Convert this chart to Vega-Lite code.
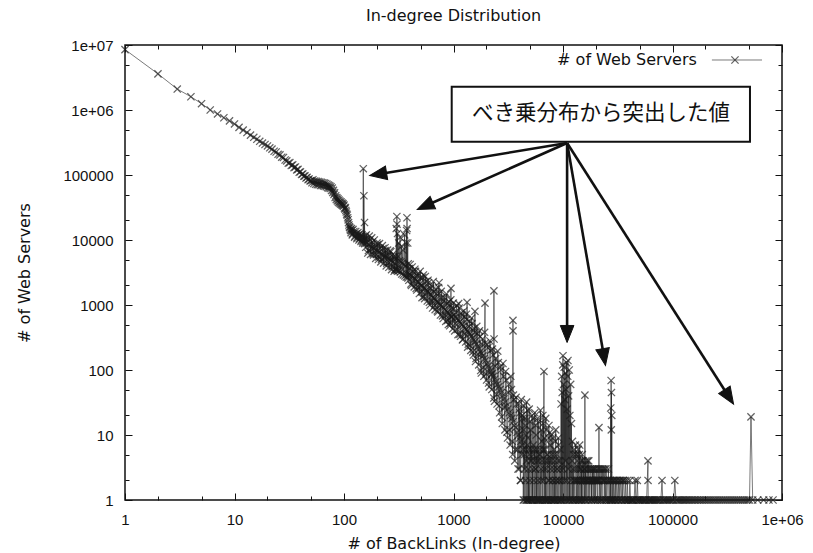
{
  "$schema": "https://vega.github.io/schema/vega-lite/v6.json",
  "autosize": {"type": "none"},
  "width": 657,
  "height": 455,
  "padding": {"left": 125, "top": 45, "right": 31, "bottom": 53},
  "background": "white",
  "title": {"text": "In-degree Distribution", "font": "DejaVu Sans", "fontSize": 16, "fontWeight": "normal", "color": "#111", "offset": 14},
  "config": {
    "view": {"stroke": "#111", "strokeWidth": 1.5},
    "axis": {"labelFont": "Liberation Sans", "labelFontSize": 15, "labelColor": "#111", "titleFont": "DejaVu Sans", "titleFontSize": 16, "titleFontWeight": "normal", "titleColor": "#111", "tickColor": "#111", "tickWidth": 1, "grid": false, "domain": false}
  },
  "datasets": {
    "main": [
      {"x":1,"y":8500000},{"x":2,"y":3600000},{"x":3,"y":2100000},{"x":4,"y":1600000},{"x":5,"y":1250000},{"x":6,"y":1000000},{"x":7,"y":870000},{"x":8,"y":760000},{"x":9,"y":680000},{"x":10,"y":610000},
      {"x":11,"y":540000},{"x":12,"y":490000},{"x":13,"y":450000},{"x":14,"y":410000},{"x":15,"y":380000},{"x":16,"y":355000},{"x":17,"y":330000},{"x":18,"y":310000},{"x":19,"y":295000},{"x":20,"y":280000},
      {"x":21,"y":262000},{"x":22,"y":250000},{"x":23,"y":232000},{"x":24,"y":226000},{"x":25,"y":208000},{"x":26,"y":204000},{"x":27,"y":188000},{"x":28,"y":186000},{"x":29,"y":170000},{"x":30,"y":165000},
      {"x":31,"y":152000},{"x":32,"y":155000},{"x":33,"y":140000},{"x":34,"y":143000},{"x":35,"y":130000},{"x":36,"y":133000},{"x":37,"y":120000},{"x":38,"y":122000},{"x":39,"y":110000},{"x":40,"y":112000},
      {"x":41,"y":102000},{"x":42,"y":104000},{"x":43,"y":96000},{"x":44,"y":97000},{"x":45,"y":90000},{"x":46,"y":92000},{"x":47,"y":85000},{"x":48,"y":87000},{"x":49,"y":81000},{"x":50,"y":82000},
      {"x":51,"y":76000},{"x":52,"y":84000},{"x":53,"y":74000},{"x":54,"y":81000},{"x":55,"y":72000},{"x":56,"y":80000},{"x":57,"y":71000},{"x":58,"y":79000},{"x":59,"y":71000},{"x":60,"y":78000},
      {"x":61,"y":69000},{"x":62,"y":77000},{"x":63,"y":69000},{"x":64,"y":76000},{"x":65,"y":68000},{"x":66,"y":75000},{"x":67,"y":67000},{"x":68,"y":74000},{"x":69,"y":66000},{"x":70,"y":72000},
      {"x":71,"y":64000},{"x":72,"y":70000},{"x":73,"y":63000},{"x":74,"y":68000},{"x":75,"y":62000},{"x":76,"y":66000},{"x":77,"y":58000},{"x":78,"y":63000},{"x":79,"y":54000},{"x":80,"y":58000},
      {"x":81,"y":50000},{"x":82,"y":53000},{"x":83,"y":45000},{"x":84,"y":48000},{"x":85,"y":42000},{"x":86,"y":45000},{"x":87,"y":40000},{"x":88,"y":43000},{"x":89,"y":38000},{"x":90,"y":41000},
      {"x":91,"y":37000},{"x":92,"y":39500},{"x":93,"y":36000},{"x":94,"y":38500},{"x":95,"y":35000},{"x":96,"y":37000},{"x":97,"y":34000},{"x":98,"y":36000},{"x":99,"y":33000},{"x":100,"y":34500},
      {"x":101,"y":31000},{"x":102,"y":30000},{"x":103,"y":31500},{"x":104,"y":28500},{"x":105,"y":27000},{"x":106,"y":25000},{"x":107,"y":24000},{"x":108,"y":22000},{"x":109,"y":20500},{"x":110,"y":18500},
      {"x":111,"y":17000},{"x":112,"y":16000},{"x":113,"y":15500},{"x":114,"y":14500},{"x":115,"y":14000},{"x":116,"y":13000},{"x":117,"y":15000},{"x":118,"y":14000},{"x":119,"y":12000},{"x":120,"y":12500},
      {"x":121,"y":14500},{"x":123,"y":13500},{"x":125,"y":11000},{"x":126,"y":11500},{"x":128,"y":13500},{"x":129,"y":12500},{"x":131,"y":10500},{"x":132,"y":11000},{"x":134,"y":13000},{"x":135,"y":12000},
      {"x":137,"y":10000},{"x":138,"y":10500},{"x":140,"y":12500},{"x":141,"y":11500},{"x":143,"y":9500},{"x":144,"y":10000},{"x":146,"y":12000},{"x":147,"y":11000},{"x":148,"y":9000},{"x":149,"y":9500},
      {"x":150,"y":125000},{"x":151,"y":10000},{"x":152,"y":48000},{"x":153,"y":9000},{"x":154,"y":18600},{"x":155,"y":8800},{"x":156,"y":11500},{"x":157,"y":10500},
      {"x":158,"y":7730},{"x":160,"y":12000},{"x":161,"y":9000},{"x":163,"y":10100},{"x":165,"y":6300},{"x":167,"y":6900},{"x":168,"y":8500},{"x":170,"y":11500},{"x":172,"y":10000},{"x":174,"y":8000},
      {"x":175,"y":6000},{"x":177,"y":7400},{"x":179,"y":10800},{"x":180,"y":7800},{"x":181,"y":9300},{"x":184,"y":6200},{"x":186,"y":5900},{"x":187,"y":7500},{"x":189,"y":10000},{"x":192,"y":7800},
      {"x":194,"y":7000},{"x":195,"y":5200},{"x":197,"y":6000},{"x":200,"y":9000},{"x":201,"y":6800},{"x":203,"y":8500},{"x":206,"y":5000},{"x":208,"y":5500},{"x":209,"y":6500},{"x":211,"y":8800},
      {"x":214,"y":7400},{"x":216,"y":6200},{"x":217,"y":4600},{"x":220,"y":5000},{"x":223,"y":6000},{"x":224,"y":8200},{"x":227,"y":7400},{"x":230,"y":4400},{"x":231,"y":5800},{"x":233,"y":5400},
      {"x":237,"y":7600},{"x":239,"y":5600},{"x":240,"y":6900},{"x":243,"y":4000},{"x":246,"y":4400},{"x":247,"y":5400},{"x":250,"y":7000},{"x":253,"y":5800},{"x":255,"y":5200},{"x":257,"y":3800},
      {"x":260,"y":4500},{"x":263,"y":5000},{"x":264,"y":6800},{"x":268,"y":6600},{"x":271,"y":4800},{"x":272,"y":3500},{"x":275,"y":3900},{"x":279,"y":6000},{"x":280,"y":4600},{"x":283,"y":5500},
      {"x":287,"y":3300},{"x":289,"y":4400},{"x":291,"y":3500},{"x":294,"y":5600},
      {"x":296,"y":5000},{"x":298,"y":3600},{"x":300,"y":15000},{"x":302,"y":3400},{"x":304,"y":23000},{"x":305,"y":17500},{"x":306,"y":3500},
      {"x":308,"y":12600},{"x":310,"y":3300},{"x":312,"y":5600},{"x":316,"y":9000},{"x":318,"y":3400},{"x":321,"y":4800},{"x":325,"y":11000},{"x":327,"y":3200},{"x":331,"y":4600},{"x":335,"y":8000},
      {"x":337,"y":3000},{"x":341,"y":4400},{"x":345,"y":7000},{"x":348,"y":2900},{"x":353,"y":4200},{"x":358,"y":12000},{"x":360,"y":2800},{"x":364,"y":4000},{"x":368,"y":9000},{"x":370,"y":2700},
      {"x":373,"y":14000},{"x":375,"y":3000},{"x":376,"y":22000},{"x":377,"y":15000},{"x":379,"y":2700},{"x":382,"y":9000},{"x":384,"y":2600},{"x":386,"y":4300},
      {"x":391,"y":2400},{"x":394,"y":3000},{"x":397,"y":3650},{"x":402,"y":4200},{"x":405,"y":2900},{"x":408,"y":2100},{"x":413,"y":2000},{"x":416,"y":2800},{"x":419,"y":3850},{"x":425,"y":3300},
      {"x":428,"y":2700},{"x":432,"y":2400},{"x":438,"y":1900},{"x":441,"y":2600},{"x":444,"y":3550},{"x":450,"y":3300},{"x":453,"y":2450},{"x":456,"y":1800},{"x":462,"y":1700},{"x":466,"y":2300},
      {"x":469,"y":2800},{"x":475,"y":3000},{"x":479,"y":2250},{"x":482,"y":1850},{"x":488,"y":1500},{"x":492,"y":2100},{"x":496,"y":3300},{"x":502,"y":2600},{"x":506,"y":2000},{"x":510,"y":1600},
      {"x":516,"y":1300},{"x":520,"y":1950},{"x":524,"y":2650},{"x":531,"y":2900},{"x":534,"y":1850},{"x":538,"y":1350},{"x":545,"y":1250},{"x":549,"y":1800},{"x":553,"y":2750},{"x":560,"y":2300},
      {"x":564,"y":1700},{"x":569,"y":1550},{"x":576,"y":1150},{"x":580,"y":1650},{"x":585,"y":2400},{"x":592,"y":2200},{"x":597,"y":1550},{"x":602,"y":1100},{"x":610,"y":1000},{"x":614,"y":1450},
      {"x":618,"y":1800},{"x":626,"y":2000},{"x":631,"y":1400},{"x":636,"y":1150},{"x":644,"y":900},{"x":649,"y":1300},{"x":654,"y":2300},{"x":660,"y":1600},{"x":667,"y":1250},{"x":672,"y":980},
      {"x":680,"y":850},{"x":686,"y":1200},{"x":691,"y":1780},{"x":700,"y":1500},{"x":705,"y":1150},{"x":711,"y":810},{"x":720,"y":780},{"x":725,"y":1100},{"x":730,"y":1860},{"x":738,"y":2200},
      {"x":740,"y":1500},{"x":745,"y":1050},{"x":751,"y":980},{"x":760,"y":700},{"x":766,"y":1000},{"x":772,"y":1620},{"x":782,"y":1300},{"x":788,"y":950},{"x":793,"y":680},{"x":805,"y":620},
      {"x":810,"y":900},{"x":816,"y":1150},{"x":827,"y":1300},{"x":833,"y":860},{"x":839,"y":700},{"x":850,"y":560},{"x":856,"y":820},{"x":862,"y":1480},{"x":873,"y":1050},{"x":880,"y":780},
      {"x":886,"y":580},{"x":897,"y":500},{"x":904,"y":740},{"x":911,"y":1130},{"x":922,"y":1000},{"x":924,"y":480},{"x":929,"y":700},{"x":935,"y":520},{"x":945,"y":1200},{"x":948,"y":1800},
      {"x":952,"y":650},{"x":958,"y":660},{"x":970,"y":900},{"x":985,"y":430},{"x":990,"y":620},{"x":998,"y":1070},{"x":1010,"y":880},{"x":1018,"y":700},{"x":1026,"y":400},{"x":1040,"y":520},
      {"x":1048,"y":650},{"x":1055,"y":760},{"x":1070,"y":980},{"x":1077,"y":620},{"x":1084,"y":420},{"x":1100,"y":350},{"x":1107,"y":580},{"x":1114,"y":1050},{"x":1130,"y":900},{"x":1138,"y":550},
      {"x":1145,"y":355},{"x":1160,"y":330},{"x":1168,"y":520},{"x":1176,"y":760},{"x":1195,"y":700},{"x":1200,"y":500},{"x":1208,"y":290},{"x":1225,"y":300},{"x":1233,"y":470},{"x":1242,"y":810},
      {"x":1260,"y":650},{"x":1268,"y":440},{"x":1276,"y":360},{"x":1293,"y":270},{"x":1302,"y":420},{"x":1311,"y":720},{"x":1325,"y":600},{"x":1330,"y":1100},{"x":1338,"y":400},{"x":1347,"y":225},
      {"x":1365,"y":250},{"x":1375,"y":380},{"x":1385,"y":470},{"x":1400,"y":560},{"x":1412,"y":360},{"x":1423,"y":235},{"x":1440,"y":200},{"x":1452,"y":330},{"x":1463,"y":630},{"x":1480,"y":520},
      {"x":1492,"y":310},{"x":1503,"y":190},{"x":1520,"y":170},{"x":1533,"y":290},{"x":1545,"y":440},{"x":1560,"y":380},{"x":1570,"y":800},{"x":1576,"y":270},{"x":1588,"y":135},{"x":1605,"y":150},
      {"x":1620,"y":250},{"x":1632,"y":470},{"x":1650,"y":360},{"x":1665,"y":230},{"x":1677,"y":175},{"x":1700,"y":120},{"x":1712,"y":210},{"x":1724,"y":400},{"x":1745,"y":330},{"x":1760,"y":190},
      {"x":1772,"y":98},{"x":1795,"y":90},{"x":1808,"y":180},{"x":1821,"y":250},{"x":1845,"y":300},{"x":1858,"y":165},{"x":1871,"y":110},{"x":1895,"y":80},{"x":1910,"y":150},{"x":1924,"y":380},
      {"x":1940,"y":1070},{"x":1950,"y":260},{"x":1964,"y":140},{"x":1978,"y":87},{"x":2005,"y":70},{"x":2018,"y":125},{"x":2033,"y":245},{"x":2060,"y":220},{"x":2075,"y":115},{"x":2090,"y":63},
      {"x":2120,"y":55},{"x":2133,"y":105},{"x":2148,"y":280},{"x":2180,"y":200},{"x":2193,"y":95},{"x":2208,"y":85},{"x":2240,"y":50},{"x":2254,"y":88},{"x":2269,"y":210},{"x":2300,"y":170},
      {"x":2317,"y":80},{"x":2332,"y":37},{"x":2340,"y":1650},{"x":2346,"y":300},{"x":2365,"y":33},{"x":2382,"y":72},{"x":2398,"y":115},{"x":2430,"y":150},{"x":2448,"y":66},{"x":2465,"y":42},
      {"x":2500,"y":30},{"x":2517,"y":60},{"x":2534,"y":195},{"x":2570,"y":130},{"x":2587,"y":55},{"x":2605,"y":28},{"x":2640,"y":22},{"x":2660,"y":50},{"x":2677,"y":112},{"x":2715,"y":100},
      {"x":2734,"y":45},{"x":2752,"y":19},{"x":2790,"y":15},{"x":2810,"y":40},{"x":2830,"y":126},{"x":2870,"y":80},{"x":2890,"y":36},{"x":2908,"y":27},{"x":2950,"y":12},{"x":2970,"y":32},
      {"x":2990,"y":95},{"x":3030,"y":70},{"x":3050,"y":28},{"x":3073,"y":11},{"x":3115,"y":9},{"x":3137,"y":25},{"x":3159,"y":45},{"x":3200,"y":60},{"x":3225,"y":22},{"x":3247,"y":12},
      {"x":3290,"y":7},{"x":3315,"y":20},{"x":3338,"y":80},{"x":3380,"y":50},{"x":3407,"y":18},{"x":3431,"y":8},{"x":3470,"y":5},{"x":3490,"y":580},{"x":3495,"y":400},{"x":3502,"y":16},
      {"x":3527,"y":41},{"x":3570,"y":35},{"x":3600,"y":14},{"x":3626,"y":4},{"x":3670,"y":6},{"x":3700,"y":13},{"x":3728,"y":38},{"x":3780,"y":30},{"x":3805,"y":11},{"x":3832,"y":6},
      {"x":3880,"y":3},{"x":3910,"y":10},{"x":3939,"y":30},{"x":3980,"y":3},{"x":3990,"y":25},{"x":4020,"y":9},{"x":4050,"y":22},{"x":4080,"y":2},{"x":4110,"y":2},{"x":4135,"y":8},
      {"x":4160,"y":35},{"x":4215,"y":5},{"x":4230,"y":20},{"x":4250,"y":7},{"x":4280,"y":18},{"x":4320,"y":6},{"x":4340,"y":1},{"x":4370,"y":12},
      {"x":4395,"y":28},{"x":4425,"y":1},{"x":4440,"y":5},{"x":4460,"y":3},{"x":4490,"y":18},{"x":4520,"y":14},{"x":4535,"y":6},{"x":4555,"y":2},{"x":4585,"y":1},{"x":4620,"y":10},{"x":4635,"y":4},{"x":4650,"y":32},{"x":4680,"y":1},
      {"x":4710,"y":1},{"x":4730,"y":7},{"x":4745,"y":24},{"x":4780,"y":9},{"x":4810,"y":1},{"x":4830,"y":3},{"x":4845,"y":1},{"x":4880,"y":6},{"x":4915,"y":25},{"x":4930,"y":5},{"x":4950,"y":1},{"x":4990,"y":2},{"x":5025,"y":16},
      {"x":5040,"y":4},{"x":5060,"y":12},{"x":5095,"y":1},{"x":5130,"y":1},{"x":5150,"y":6},{"x":5170,"y":4},{"x":5210,"y":20},{"x":5250,"y":1},{"x":5270,"y":3},{"x":5290,"y":1},{"x":5330,"y":18},{"x":5370,"y":7},{"x":5390,"y":5},{"x":5410,"y":2},
      {"x":5450,"y":1},{"x":5490,"y":6},{"x":5510,"y":4},{"x":5530,"y":22},{"x":5570,"y":1},{"x":5610,"y":3},{"x":5630,"y":3},{"x":5650,"y":14},{"x":5690,"y":10},{"x":5735,"y":1},{"x":5760,"y":6},{"x":5780,"y":1},{"x":5825,"y":4},
      {"x":5870,"y":18},{"x":5890,"y":2},{"x":5915,"y":1},{"x":5960,"y":1},{"x":6000,"y":16},{"x":6020,"y":4},{"x":6050,"y":5},{"x":6095,"y":1},{"x":6140,"y":1},{"x":6160,"y":5},{"x":6185,"y":6},{"x":6230,"y":24},{"x":6275,"y":1},
      {"x":6300,"y":3},{"x":6320,"y":2},{"x":6365,"y":12},{"x":6410,"y":8},{"x":6430,"y":4},{"x":6455,"y":1},{"x":6500,"y":1},{"x":6550,"y":20},{"x":6580,"y":6},{"x":6600,"y":15},{"x":6650,"y":2},{"x":6700,"y":95},{"x":6710,"y":1},
      {"x":6725,"y":3},{"x":6755,"y":9},{"x":6800,"y":6},{"x":6850,"y":1},{"x":6870,"y":4},{"x":6900,"y":1},{"x":6955,"y":18},{"x":7010,"y":12},{"x":7030,"y":3},{"x":7065,"y":1},{"x":7120,"y":1},{"x":7175,"y":5},{"x":7200,"y":5},{"x":7230,"y":4},
      {"x":7280,"y":1},{"x":7330,"y":1},{"x":7360,"y":2},{"x":7385,"y":9},{"x":7440,"y":14},{"x":7500,"y":2},{"x":7520,"y":4},{"x":7550,"y":1},{"x":7610,"y":11},{"x":7670,"y":7},{"x":7690,"y":3},{"x":7730,"y":1},{"x":7790,"y":1},
      {"x":7845,"y":4},{"x":7870,"y":5},{"x":7900,"y":10},{"x":7960,"y":1},{"x":8020,"y":2},{"x":8050,"y":2},{"x":8085,"y":9},{"x":8150,"y":1},{"x":8210,"y":1},{"x":8240,"y":3},{"x":8270,"y":6},{"x":8335,"y":5},{"x":8400,"y":1},
      {"x":8430,"y":4},{"x":8460,"y":1},{"x":8520,"y":8},{"x":8590,"y":12},{"x":8620,"y":2},{"x":8660,"y":1},{"x":8725,"y":2},{"x":8790,"y":5},{"x":8820,"y":3},{"x":8860,"y":3},{"x":8930,"y":1},{"x":9000,"y":1},{"x":9020,"y":4},{"x":9060,"y":9},
      {"x":9125,"y":7},{"x":9190,"y":1},{"x":9230,"y":2},{"x":9260,"y":2},{"x":9330,"y":4},{"x":9400,"y":6},{"x":9440,"y":3},{"x":9470,"y":1},{"x":9535,"y":1},{"x":9600,"y":30},{"x":9650,"y":1},{"x":9720,"y":80},
      {"x":9760,"y":2},{"x":9830,"y":45},{"x":9870,"y":1},{"x":9950,"y":120},{"x":10000,"y":166},{"x":10040,"y":3},{"x":10120,"y":60},{"x":10170,"y":1},{"x":10250,"y":110},{"x":10300,"y":2},
      {"x":10380,"y":35},{"x":10420,"y":1},{"x":10500,"y":90},{"x":10550,"y":4},{"x":10640,"y":50},{"x":10690,"y":1},{"x":10780,"y":130},{"x":10830,"y":2},{"x":10920,"y":25},{"x":10960,"y":1},
      {"x":11050,"y":80},{"x":11100,"y":140},{"x":11150,"y":3},{"x":11250,"y":40},{"x":11300,"y":1},{"x":11400,"y":100},{"x":11450,"y":1},{"x":11550,"y":20},{"x":11650,"y":1},{"x":11750,"y":60},
      {"x":11850,"y":2},{"x":11950,"y":15},{"x":12050,"y":1},{"x":12125,"y":4},{"x":12200,"y":8},{"x":12300,"y":1},{"x":12350,"y":3},{"x":12400,"y":1},{"x":12500,"y":5},{"x":12600,"y":6},{"x":12650,"y":2},{"x":12700,"y":2},
      {"x":12800,"y":1},{"x":12900,"y":1},{"x":12950,"y":3},{"x":13000,"y":7},{"x":13100,"y":5},{"x":13200,"y":2},{"x":13250,"y":2},{"x":13300,"y":1},{"x":13400,"y":5},{"x":13500,"y":4},{"x":13550,"y":3},{"x":13600,"y":1},{"x":13700,"y":2},
      {"x":13800,"y":6},{"x":13850,"y":2},{"x":13900,"y":1},{"x":14000,"y":1},{"x":14100,"y":5},{"x":14150,"y":3},{"x":14200,"y":7},{"x":14300,"y":1},{"x":14400,"y":2},{"x":14450,"y":2},{"x":14500,"y":3},{"x":14600,"y":4},{"x":14700,"y":1},
      {"x":14750,"y":3},{"x":14800,"y":1},{"x":14900,"y":4},{"x":15000,"y":5},{"x":15050,"y":2},{"x":15100,"y":2},{"x":15200,"y":1},{"x":15350,"y":4},{"x":15450,"y":2},{"x":15500,"y":3},{"x":15600,"y":2},{"x":15700,"y":1},{"x":15800,"y":3},{"x":15850,"y":41},
      {"x":15950,"y":1},{"x":16050,"y":3},{"x":16150,"y":2},{"x":16200,"y":4},{"x":16300,"y":1},{"x":16400,"y":2},{"x":16550,"y":2},{"x":16600,"y":2},{"x":16700,"y":3},{"x":16800,"y":4},{"x":16900,"y":1},{"x":17050,"y":2},
      {"x":17100,"y":3},{"x":17200,"y":4},{"x":17350,"y":1},{"x":17500,"y":2},{"x":17600,"y":2},{"x":17650,"y":3},{"x":17800,"y":3},{"x":17950,"y":2},{"x":18100,"y":1},{"x":18150,"y":2},{"x":18250,"y":1},{"x":18400,"y":3},{"x":18550,"y":2},
      {"x":18650,"y":3},{"x":18700,"y":2},{"x":18850,"y":1},{"x":19000,"y":3},{"x":19150,"y":2},{"x":19200,"y":2},{"x":19300,"y":1},{"x":19450,"y":3},{"x":19600,"y":3},{"x":19700,"y":2},{"x":19750,"y":1},{"x":19900,"y":2},{"x":20050,"y":2},
      {"x":20200,"y":3},{"x":20300,"y":2},{"x":20350,"y":2},{"x":20500,"y":1},{"x":20650,"y":1},{"x":20800,"y":3},{"x":20900,"y":2},{"x":20950,"y":2},{"x":21100,"y":2},{"x":21250,"y":3},{"x":21300,"y":13},{"x":21400,"y":1},
      {"x":21600,"y":2},{"x":21800,"y":3},{"x":22000,"y":1},{"x":22200,"y":2},{"x":22400,"y":3},{"x":22600,"y":1},{"x":22800,"y":1},{"x":23000,"y":3},{"x":23200,"y":2},{"x":23400,"y":2},
      {"x":23600,"y":3},{"x":23800,"y":1},{"x":24000,"y":2},{"x":24200,"y":3},{"x":24400,"y":1},{"x":24600,"y":2},{"x":24800,"y":3},{"x":25000,"y":1},{"x":25250,"y":1},{"x":25500,"y":2},
      {"x":25750,"y":2},{"x":26000,"y":3},{"x":26250,"y":1},{"x":26500,"y":1},{"x":26750,"y":2},{"x":27000,"y":2},{"x":27150,"y":1},{"x":27300,"y":26},{"x":27400,"y":1},{"x":27500,"y":69},
      {"x":27600,"y":12},{"x":27700,"y":45},{"x":27800,"y":2},{"x":27900,"y":20},{"x":28000,"y":1},{"x":28250,"y":1},{"x":28500,"y":2},{"x":28750,"y":1},{"x":29000,"y":2},{"x":29300,"y":2},
      {"x":29600,"y":1},{"x":29900,"y":1},{"x":30200,"y":2},{"x":30500,"y":1},{"x":30800,"y":2},{"x":31150,"y":2},{"x":31500,"y":1},{"x":31850,"y":1},{"x":32200,"y":2},{"x":32600,"y":1},
      {"x":33000,"y":2},{"x":33400,"y":2},{"x":33800,"y":1},{"x":34200,"y":1},{"x":34600,"y":2},{"x":35000,"y":1},{"x":35400,"y":2},{"x":35850,"y":2},{"x":36300,"y":1},{"x":36750,"y":1},
      {"x":37200,"y":2},{"x":37700,"y":1},{"x":38200,"y":1},{"x":38700,"y":2},{"x":39200,"y":1},{"x":39700,"y":1},{"x":40300,"y":1},{"x":40800,"y":2},{"x":41400,"y":1},{"x":42000,"y":1},
      {"x":42600,"y":1},{"x":43200,"y":1},{"x":43800,"y":1},{"x":44600,"y":1},{"x":45500,"y":2},{"x":46300,"y":1},{"x":47000,"y":1},{"x":47700,"y":2},{"x":48500,"y":1},{"x":49200,"y":1},
      {"x":50000,"y":1},{"x":51000,"y":1},{"x":52000,"y":1},{"x":53000,"y":1},{"x":54000,"y":1},{"x":55000,"y":1},{"x":56000,"y":1},{"x":57000,"y":1},{"x":58000,"y":1},{"x":59700,"y":4},
      {"x":59800,"y":2},{"x":60000,"y":1},{"x":61000,"y":1},{"x":62000,"y":1},{"x":63200,"y":1},{"x":64500,"y":1},{"x":65700,"y":1},{"x":67000,"y":1},{"x":68500,"y":1},{"x":70000,"y":1},
      {"x":71500,"y":1},{"x":73000,"y":1},{"x":74700,"y":1},{"x":76500,"y":1},{"x":78300,"y":1},{"x":80200,"y":2},{"x":81500,"y":1},{"x":83000,"y":1},{"x":85000,"y":1},{"x":87000,"y":1},
      {"x":89000,"y":1},{"x":91000,"y":1},{"x":93000,"y":1},{"x":95000,"y":1},{"x":97500,"y":1},{"x":100000,"y":1},{"x":102500,"y":1},{"x":105000,"y":2},{"x":107500,"y":1},{"x":110000,"y":1},
      {"x":113000,"y":1},{"x":116000,"y":1},{"x":119000,"y":1},{"x":122000,"y":1},{"x":125500,"y":1},{"x":129000,"y":1},{"x":132500,"y":1},{"x":136000,"y":1},{"x":140000,"y":1},{"x":144000,"y":1},
      {"x":148500,"y":1},{"x":153000,"y":1},{"x":158000,"y":1},{"x":163000,"y":1},{"x":168500,"y":1},{"x":174000,"y":1},{"x":180000,"y":1},{"x":186000,"y":1},{"x":193000,"y":1},{"x":200000,"y":1},
      {"x":207500,"y":1},{"x":215000,"y":1},{"x":223000,"y":1},{"x":232000,"y":1},{"x":241000,"y":1},{"x":250000,"y":1},{"x":260000,"y":1},{"x":270000,"y":1},{"x":281000,"y":1},{"x":292000,"y":1},
      {"x":304000,"y":1},{"x":316000,"y":1},{"x":329000,"y":1},{"x":342000,"y":1},{"x":356000,"y":1},{"x":370000,"y":1},{"x":385000,"y":1},{"x":400000,"y":1},{"x":417000,"y":1},{"x":435000,"y":1},
      {"x":452000,"y":1},{"x":470000,"y":1},{"x":488000,"y":1},{"x":505000,"y":1},{"x":521000,"y":19},{"x":540000,"y":1},{"x":600000,"y":1},{"x":680000,"y":1},{"x":760000,"y":1},{"x":828000,"y":1}
    ],
    "box": [{"x": 963, "x2": 510000, "y": 325000, "y2": 2280000}],
    "boxText": [{"x": 22200, "y": 868000, "text": "べき乗分布から突出した値"}],
    "arrows": [
      {"x": 10900, "y": 310000, "x2": 205, "y2": 103000, "angle": 260.7},
      {"x": 10900, "y": 310000, "x2": 550, "y2": 33300, "angle": 246.1},
      {"x": 10900, "y": 310000, "x2": 10900, "y2": 358, "angle": 180},
      {"x": 10900, "y": 310000, "x2": 23700, "y2": 158, "angle": 170.2},
      {"x": 10900, "y": 310000, "x2": 328000, "y2": 38.5, "angle": 147.5}
    ],
    "legendText": [{"x": 167000, "y": 5880000, "text": "# of Web Servers"}],
    "legendLine": [{"x": 229000, "x2": 657000, "y": 5880000}],
    "legendMark": [{"x": 372000, "y": 5880000}]
  },
  "resolve": {"axis": {"x": "independent", "y": "independent"}},
  "layer": [
    {
      "data": {"name": "main"},
      "mark": {"type": "line", "stroke": "#222", "strokeWidth": 1, "strokeOpacity": 0.6, "clip": false},
      "encoding": {
        "x": {"field": "x", "type": "quantitative", "scale": {"type": "log", "domain": [1, 1000000], "nice": false},
          "axis": {"orient": "bottom", "title": "# of BackLinks (In-degree)", "titlePadding": 5,
            "values": [1,2,5,10,20,50,100,200,500,1000,2000,5000,10000,20000,50000,100000,200000,500000,1000000],
            "labelExpr": "abs(log(datum.value)/LN10 - round(log(datum.value)/LN10)) > 0.01 ? '' : (datum.value >= 1000000 ? '1e+0' + round(log(datum.value)/LN10) : format(datum.value, 'd'))",
            "tickSize": {"condition": {"test": "abs(log(datum.value)/LN10 - round(log(datum.value)/LN10)) < 0.01", "value": -7}, "value": -4},
            "labelPadding": 19, "labelFlush": false, "labelOverlap": false}},
        "y": {"field": "y", "type": "quantitative", "scale": {"type": "log", "domain": [1, 10000000], "nice": false},
          "axis": {"orient": "left", "title": "# of Web Servers", "titlePadding": 30,
            "values": [1,2,5,10,20,50,100,200,500,1000,2000,5000,10000,20000,50000,100000,200000,500000,1000000,2000000,5000000,10000000],
            "labelExpr": "abs(log(datum.value)/LN10 - round(log(datum.value)/LN10)) > 0.01 ? '' : (datum.value >= 1000000 ? '1e+0' + round(log(datum.value)/LN10) : format(datum.value, 'd'))",
            "tickSize": {"condition": {"test": "abs(log(datum.value)/LN10 - round(log(datum.value)/LN10)) < 0.01", "value": -7}, "value": -4},
            "labelPadding": 19, "labelOverlap": false, "labelFlush": false}}
      }
    },
    {
      "data": {"name": "main"},
      "mark": {"type": "point", "shape": "M-1,-1L1,1M-1,1L1,-1", "filled": false, "stroke": "#1a1a1a", "strokeWidth": 1.25, "size": 52, "opacity": 0.68, "clip": false},
      "encoding": {
        "x": {"field": "x", "type": "quantitative", "scale": {"type": "log", "domain": [1, 1000000], "nice": false},
          "axis": {"orient": "top", "title": null, "labels": false,
            "values": [1,2,5,10,20,50,100,200,500,1000,2000,5000,10000,20000,50000,100000,200000,500000,1000000],
            "tickSize": {"condition": {"test": "abs(log(datum.value)/LN10 - round(log(datum.value)/LN10)) < 0.01", "value": -7}, "value": -4}}},
        "y": {"field": "y", "type": "quantitative", "scale": {"type": "log", "domain": [1, 10000000], "nice": false},
          "axis": {"orient": "right", "title": null, "labels": false,
            "values": [1,2,5,10,20,50,100,200,500,1000,2000,5000,10000,20000,50000,100000,200000,500000,1000000,2000000,5000000,10000000],
            "tickSize": {"condition": {"test": "abs(log(datum.value)/LN10 - round(log(datum.value)/LN10)) < 0.01", "value": -7}, "value": -4}}}
      }
    },
    {
      "data": {"name": "legendText"},
      "mark": {"type": "text", "align": "right", "baseline": "middle", "font": "DejaVu Sans", "fontSize": 16, "color": "#111"},
      "encoding": {
        "x": {"field": "x", "type": "quantitative", "scale": {"type": "log", "domain": [1, 1000000], "nice": false}, "axis": null},
        "y": {"field": "y", "type": "quantitative", "scale": {"type": "log", "domain": [1, 10000000], "nice": false}, "axis": null},
        "text": {"field": "text"}
      }
    },
    {
      "data": {"name": "legendLine"},
      "mark": {"type": "rule", "stroke": "#222", "strokeWidth": 1, "strokeOpacity": 0.6},
      "encoding": {
        "x": {"field": "x", "type": "quantitative", "scale": {"type": "log", "domain": [1, 1000000], "nice": false}, "axis": null},
        "x2": {"field": "x2"},
        "y": {"field": "y", "type": "quantitative", "scale": {"type": "log", "domain": [1, 10000000], "nice": false}, "axis": null}
      }
    },
    {
      "data": {"name": "legendMark"},
      "mark": {"type": "point", "shape": "M-1,-1L1,1M-1,1L1,-1", "filled": false, "stroke": "#1a1a1a", "strokeWidth": 1.25, "size": 52, "opacity": 0.68},
      "encoding": {
        "x": {"field": "x", "type": "quantitative", "scale": {"type": "log", "domain": [1, 1000000], "nice": false}, "axis": null},
        "y": {"field": "y", "type": "quantitative", "scale": {"type": "log", "domain": [1, 10000000], "nice": false}, "axis": null}
      }
    },
    {
      "data": {"name": "arrows"},
      "mark": {"type": "rule", "stroke": "#111", "strokeWidth": 2.6},
      "encoding": {
        "x": {"field": "x", "type": "quantitative", "scale": {"type": "log", "domain": [1, 1000000], "nice": false}, "axis": null},
        "y": {"field": "y", "type": "quantitative", "scale": {"type": "log", "domain": [1, 10000000], "nice": false}, "axis": null},
        "x2": {"field": "x2"},
        "y2": {"field": "y2"}
      }
    },
    {
      "data": {"name": "arrows"},
      "mark": {"type": "point", "shape": "M0,-1L-0.8,1L0.8,1Z", "filled": true, "fill": "#111", "stroke": "#111", "strokeWidth": 1, "size": 290, "opacity": 1},
      "encoding": {
        "x": {"field": "x2", "type": "quantitative", "scale": {"type": "log", "domain": [1, 1000000], "nice": false}, "axis": null},
        "y": {"field": "y2", "type": "quantitative", "scale": {"type": "log", "domain": [1, 10000000], "nice": false}, "axis": null},
        "angle": {"field": "angle", "type": "quantitative", "scale": null}
      }
    },
    {
      "data": {"name": "box"},
      "mark": {"type": "rect", "fill": "white", "stroke": "#111", "strokeWidth": 2},
      "encoding": {
        "x": {"field": "x", "type": "quantitative", "scale": {"type": "log", "domain": [1, 1000000], "nice": false}, "axis": null},
        "x2": {"field": "x2"},
        "y": {"field": "y", "type": "quantitative", "scale": {"type": "log", "domain": [1, 10000000], "nice": false}, "axis": null},
        "y2": {"field": "y2"}
      }
    },
    {
      "data": {"name": "boxText"},
      "mark": {"type": "text", "align": "center", "baseline": "middle", "font": "Noto Sans CJK JP", "fontSize": 21.5, "color": "#111"},
      "encoding": {
        "x": {"field": "x", "type": "quantitative", "scale": {"type": "log", "domain": [1, 1000000], "nice": false}, "axis": null},
        "y": {"field": "y", "type": "quantitative", "scale": {"type": "log", "domain": [1, 10000000], "nice": false}, "axis": null},
        "text": {"field": "text"}
      }
    }
  ]
}
